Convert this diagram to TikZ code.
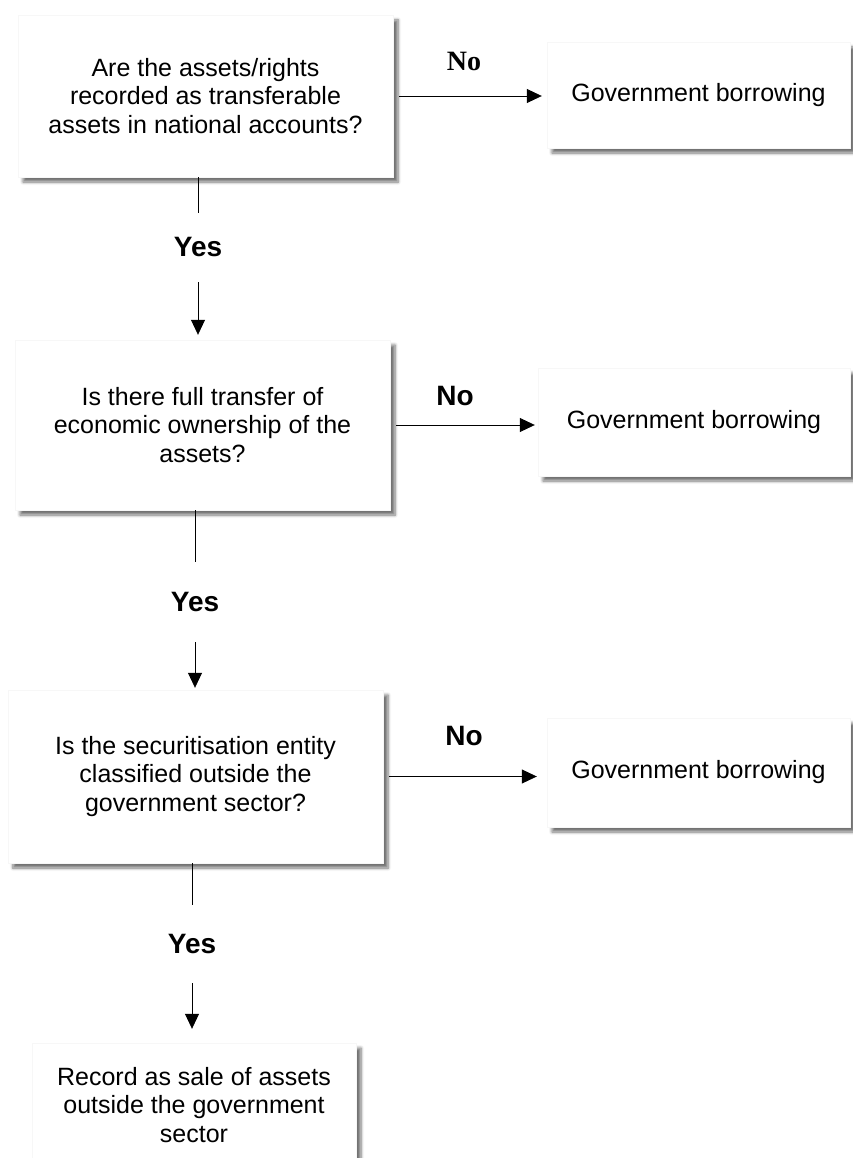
\documentclass[tikz,border=0pt]{standalone}
\usepackage{fontspec}
\setmainfont{Liberation Sans}
\newfontfamily\timesfont{Liberation Serif}
\usetikzlibrary{positioning,shadows.blur,arrows.meta}

\begin{document}
\begin{tikzpicture}[x=1pt,y=-1pt,
                every node/.style={font=\fontsize{25}{28.5}\selectfont, align=center},
                question/.style={rectangle, draw=black!3, fill=white, inner sep=0pt,
                    blur shadow={shadow xshift=5pt, shadow yshift=-5pt, shadow blur radius=3pt,
                        shadow blur steps=6, shadow blur extra rounding=0pt, shadow opacity=55}},
                answer/.style={font=\fontsize{28}{30}\selectfont\bfseries, inner sep=0pt},
                link/.style={-{Triangle[length=15pt,width=14pt]}, line width=0.8pt}]
            \useasboundingbox (0,0) rectangle (852,1158);

            % questions
            \node[question, minimum width=375pt, minimum height=162pt] (q1) at (205.5,96)
                {Are the assets/rights\\recorded as transferable\\assets in national accounts?};
            \node[question, minimum width=375pt, minimum height=170pt] (q2) at (202.5,425)
                {Is there full transfer of\\economic ownership of the\\assets?};
            \node[question, minimum width=375pt, minimum height=173pt] (q3) at (195.5,776.5)
                {Is the securitisation entity\\classified outside the\\government sector?};
            \node[question, minimum width=324pt, minimum height=124pt] (q4) at (194,1105)
                {Record as sale of assets\\outside the government\\sector};

            % outcomes
            \node[question, minimum width=303pt, minimum height=106pt] (g1) at (698.5,95) {Government borrowing};
            \node[question, minimum width=312pt, minimum height=108pt] (g2) at (694,422) {Government borrowing};
            \node[question, minimum width=303pt, minimum height=109pt] (g3) at (698.5,772.5) {Government borrowing};

            % labels
            \node[answer, font=\fontsize{28}{30}\selectfont\timesfont\bfseries] (no1) at (464,61) {No};
            \node[answer] (no2) at (455,396) {No};
            \node[answer] (no3) at (464,736) {No};
            \node[answer, minimum height=69pt] (yes1) at (198,247.5) {Yes};
            \node[answer, minimum height=80pt] (yes2) at (195,602) {Yes};
            \node[answer, minimum height=78pt] (yes3) at (192,944) {Yes};

            \draw[link, shorten <=6pt, shorten >=5pt] (q1.east) -- (q1.east -| g1.west);
            \draw[link, shorten <=6pt, shorten >=3pt] (q2.east) -- (q2.east -| g2.west);
            \draw[link, shorten <=6pt, shorten >=10pt] (q3.east) -- (q3.east -| g3.west);

            \draw[line width=0.8pt] (q1.south -| yes1) -- (yes1);
            \draw[link, shorten >=5pt] (yes1) -- (q2.north -| yes1);
            \draw[line width=0.8pt] (q2.south -| yes2) -- (yes2);
            \draw[link, shorten >=2pt] (yes2) -- (q3.north -| yes2);
            \draw[line width=0.8pt] (q3.south -| yes3) -- (yes3);
            \draw[link, shorten >=14pt] (yes3) -- (q4.north -| yes3);
        \end{tikzpicture}
\end{document}
